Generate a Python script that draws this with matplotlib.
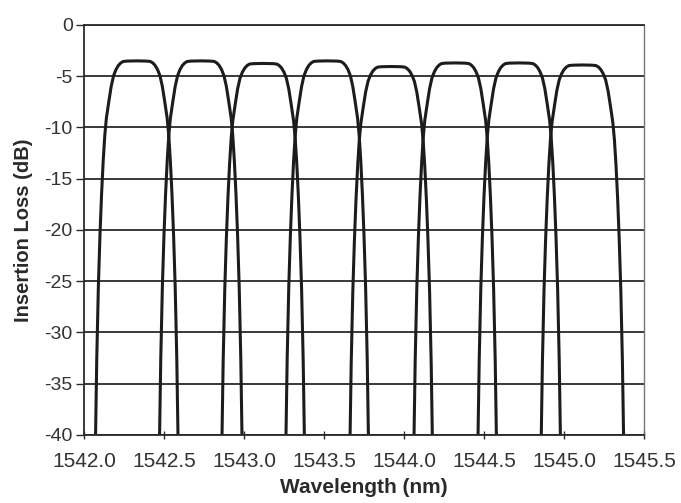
import numpy as np
import matplotlib
matplotlib.use('Agg')
import matplotlib.pyplot as plt

plt.rcParams['font.family'] = ['Liberation Sans', 'DejaVu Sans']

# 채널 중심 파장 (nm) 과 최소 삽입 손실 (dB)
centers = [1542.33, 1542.73, 1543.12, 1543.52, 1543.92, 1544.32, 1544.72, 1545.115]
peaks = [-3.5, -3.5, -3.75, -3.5, -4.05, -3.7, -3.7, -3.9]

# 통과 대역 모양: 중심에서의 거리 (nm) -> 최대값 대비 손실 (dB)
offsets = [0.0, 0.06, 0.085, 0.10, 0.115, 0.13, 0.145, 0.16, 0.175, 0.19,
           0.20, 0.21, 0.22, 0.23, 0.24, 0.25, 0.258, 0.264]
drops = [0.0, 0.02, 0.06, 0.2, 0.45, 0.85, 1.45, 2.5, 4.0, 5.6,
         7.3, 9.8, 13.0, 17.0, 22.0, 29.0, 37.0, 43.0]

xticks = [1542.0, 1542.5, 1543.0, 1543.5, 1544.0, 1544.5, 1545.0, 1545.5]
yticks = [0, -5, -10, -15, -20, -25, -30, -35, -40]

fig = plt.figure(figsize=(6.81, 5.03), dpi=100)
ax = fig.add_axes([0.1233, 0.1352, 0.8224, 0.8151])

off = np.array(offsets)
dr = np.array(drops)
for c, p in zip(centers, peaks):
    x = np.concatenate([c - off[::-1], c + off[1:]])
    y = np.concatenate([p - dr[::-1], p - dr[1:]])
    ax.plot(x, y, color='#1c1c1c', linewidth=2.2, solid_joinstyle='round')

ax.set_xlim(1542.0, 1545.5)
ax.set_ylim(-40, 0)
ax.set_xticks(xticks)
ax.set_xticklabels([f'{v:.1f}' for v in xticks])
ax.set_yticks(yticks)
ax.set_yticklabels([str(v) for v in yticks])

ax.yaxis.grid(True, color='#2a2a2a', linewidth=1.3)
ax.xaxis.grid(False)
ax.set_axisbelow(True)

for s in ['left', 'bottom', 'top']:
    ax.spines[s].set_color('#2a2a2a')
    ax.spines[s].set_linewidth(1.3)
ax.spines['right'].set_color('#777777')
ax.spines['right'].set_linewidth(1.0)

ax.tick_params(axis='x', direction='inout', length=6, width=1.0, pad=9,
               labelsize=15, colors='#2a2a2a', labelcolor='#333333')
ax.tick_params(axis='y', direction='out', length=6, width=1.0, pad=2,
               labelsize=14, colors='#2a2a2a', labelcolor='#333333')

ax.set_xlabel('Wavelength (nm)', fontsize=15, fontweight='bold',
              color='#2a2a2a', labelpad=5)
ax.set_ylabel('Insertion Loss (dB)', fontsize=14.5, fontweight='bold',
              color='#2a2a2a', labelpad=8)

fig.savefig('out.png', dpi=100)
